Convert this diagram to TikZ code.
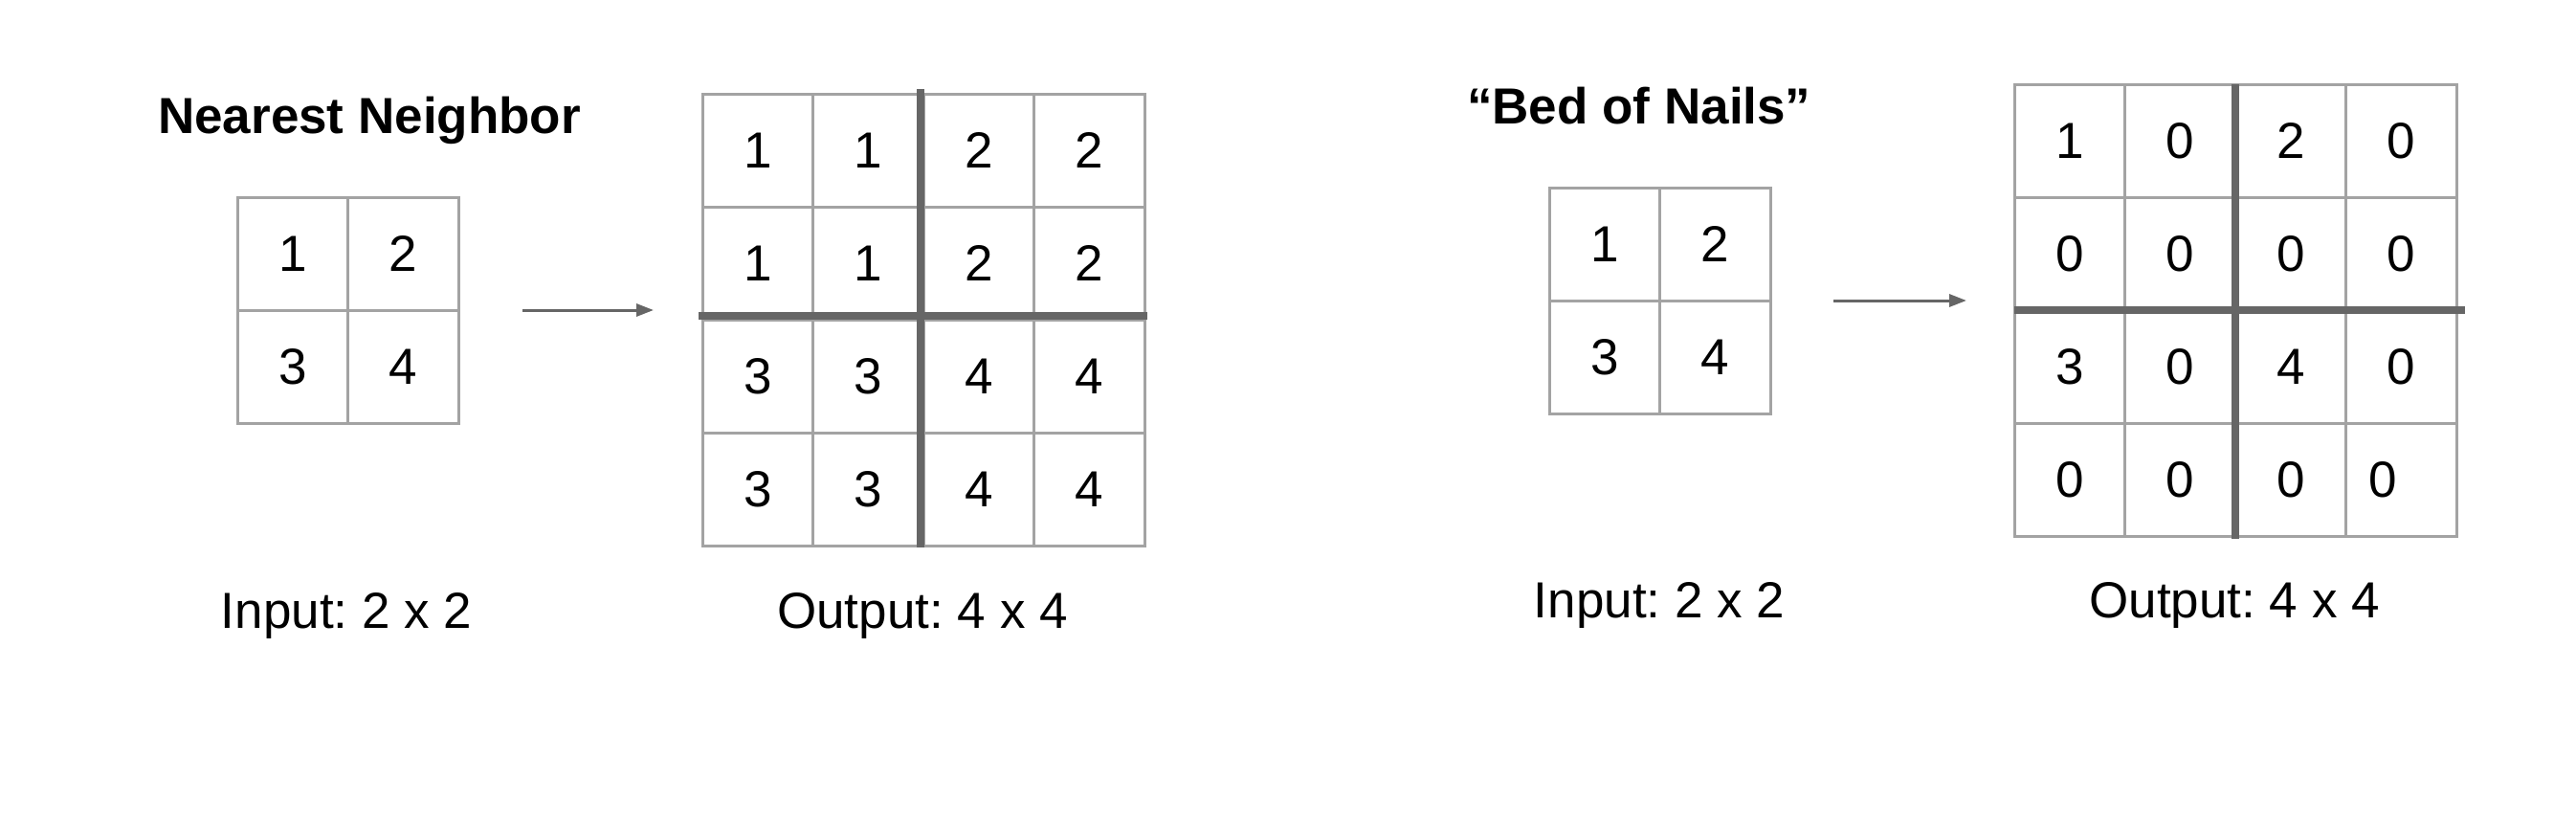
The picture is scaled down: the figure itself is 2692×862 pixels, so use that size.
\documentclass[tikz,border=0pt]{standalone}
\usepackage{fontspec}
\setmainfont{Liberation Sans}
\frenchspacing
\usetikzlibrary{arrows.meta}
\definecolor{gridgray}{HTML}{A3A3A3}
\definecolor{bargray}{HTML}{666666}
\tikzstyle{cell} = [rectangle, draw=gridgray, line width=3pt, minimum width=115.5pt, minimum height=118pt, inner sep=0pt, outer sep=0pt, font=\fontsize{53}{60}\selectfont]
\tikzstyle{title} = [anchor=base west, inner sep=0pt, font=\fontsize{53}{60}\selectfont\bfseries]
\tikzstyle{caption} = [anchor=base, inner sep=0pt, font=\fontsize{53}{60}\selectfont]
\tikzstyle{arrow} = [line width=3pt, draw=bargray, -{Triangle[length=18pt,width=13pt]}]
\tikzstyle{divider} = [line width=8pt, draw=bargray]

\begin{document}
\begin{tikzpicture}[x=1pt, y=-1pt]
			\useasboundingbox (0,0) rectangle (2692,862);
			
			% nearest neighbor
			\node[title] (nntitle) at (165,139) {Nearest Neighbor};
			\foreach \r/\c/\v in {1/1/1,1/2/2,2/1/3,2/2/4}
				\node[cell] (nnin-\r-\c) at (248+\c*115.5-57.75, 206+\r*118-59) {\v};
			\foreach \r/\c/\v in {1/1/1,1/2/1,1/3/2,1/4/2, 2/1/1,2/2/1,2/3/2,2/4/2,
			                      3/1/3,3/2/3,3/3/4,3/4/4, 4/1/3,4/2/3,4/3/4,4/4/4}
				\node[cell] (nnout-\r-\c) at (734+\c*115.5-57.75, 98+\r*118-59) {\v};
			\draw [divider, shorten <=-5pt, shorten >=-2pt] ([xshift=-3pt]nnout-1-2.north east) -- ([xshift=-3pt]nnout-4-2.south east);
			\draw [divider, shorten <=-4pt, shorten >=-3pt] ([yshift=4pt]nnout-2-1.south west) -- ([yshift=4pt]nnout-2-4.south east);
			\draw [arrow, shorten <=67pt, shorten >=51pt] (nnin-1-2.south east) -- (nnin-1-2.south east -| nnout-1-1.west);
			\node[caption] (nnincap) at (362,656) {Input: 2 x 2};
			\node[caption] (nnoutcap) at (964,656) {Output: 4 x 4};
			
			% bed of nails
			\node[title] (bntitle) at (1533,129) {“Bed of Nails”};
			\foreach \r/\c/\v in {1/1/1,1/2/2,2/1/3,2/2/4}
				\node[cell] (bnin-\r-\c) at (1619+\c*115.5-57.75, 196+\r*118-59) {\v};
			\foreach \r/\c/\v in {1/1/1,1/2/0,1/3/2,1/4/0, 2/1/0,2/2/0,2/3/0,2/4/0,
			                      3/1/3,3/2/0,3/3/4,3/4/0, 4/1/0,4/2/0,4/3/0,4/4/\hspace*{-38pt}0}
				\node[cell] (bnout-\r-\c) at (2105+\c*115.5-57.75, 88+\r*118-59) {\v};
			\draw [divider, shorten >=-3pt] (bnout-1-2.north east) -- (bnout-4-2.south east);
			\draw [divider, shorten >=-9pt] (bnout-2-1.south west) -- (bnout-2-4.south east);
			\draw [arrow, shorten <=66pt, shorten >=50pt] (bnin-1-2.south east) -- (bnin-1-2.south east -| bnout-1-1.west);
			\node[caption] (bnincap) at (1734,645) {Input: 2 x 2};
			\node[caption] (bnoutcap) at (2335,645) {Output: 4 x 4};
			
		\end{tikzpicture}
\end{document}
